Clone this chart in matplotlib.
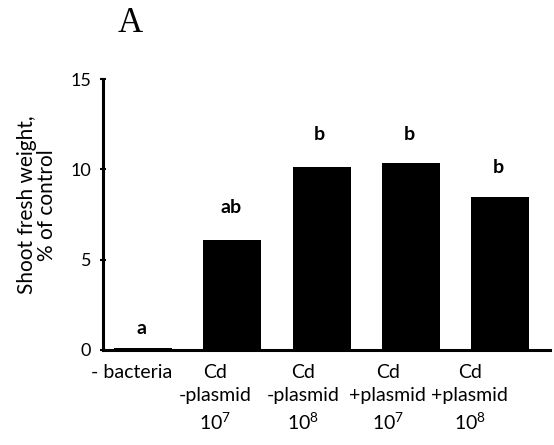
import matplotlib
matplotlib.use("Agg")
import matplotlib.pyplot as plt

categories = ["- bacteria", "Cd\n-plasmid\n10$^{7}$", "Cd\n-plasmid\n10$^{8}$",
              "Cd\n+plasmid\n10$^{7}$", "Cd\n+plasmid\n10$^{8}$"]
values = [0.1, 6.1, 10.15, 10.35, 8.45]
letters = ["a", "ab", "b", "b", "b"]
yticks = [0, 5, 10, 15]

plt.rcParams['font.family'] = ['Lato', 'DejaVu Sans']
plt.rcParams['mathtext.fontset'] = 'custom'
plt.rcParams['mathtext.rm'] = 'Lato'
plt.rcParams['mathtext.it'] = 'Lato'

W, H = 554, 445
fig = plt.figure(figsize=(W/100, H/100), dpi=100)
left, right, bottom, top = 103, 550, 350, 79
ax = fig.add_axes([left/W, 1-bottom/H, (right-left)/W, (bottom-top)/H])

x = list(range(len(values)))
ax.bar(x, values, width=0.65, color='black')
ax.set_xlim(-0.45, 4.56)
ax.set_ylim(0, 15)
ax.set_yticks(yticks)
ax.set_yticklabels([str(t) for t in yticks], fontsize=13)
ax.tick_params(axis='y', direction='inout', length=5, width=1.5, pad=6)
ax.set_xticks([])
for s in ['top', 'right']:
    ax.spines[s].set_visible(False)
for s in ['left', 'bottom']:
    ax.spines[s].set_linewidth(2.2)

# letters above bars
for i, (v, l) in enumerate(zip(values, letters)):
    ax.text(i - 0.02, v + [0.6, 1.3, 1.3, 1.1, 1.2][i], l, ha='center', va='bottom',
            fontsize=14, fontweight='bold')

# x category labels (shifted slightly left of bars as in reference)
label_x = [-0.13, 0.81, 1.79, 2.74, 3.66]
for lx, c in zip(label_x, categories):
    ax.text(lx, -0.05, c, transform=ax.get_xaxis_transform(), ha='center', va='top',
            fontsize=14, linespacing=1.45)

fig.text(37/W, 1-205/H, "Shoot fresh weight,\n% of control", rotation=90,
         ha='center', va='center', fontsize=15, linespacing=1.05)
fig.text(130/W, 1-24/H, "A", ha='center', va='center', fontsize=25,
         family='Liberation Serif')

fig.savefig("out.png", dpi=100)
